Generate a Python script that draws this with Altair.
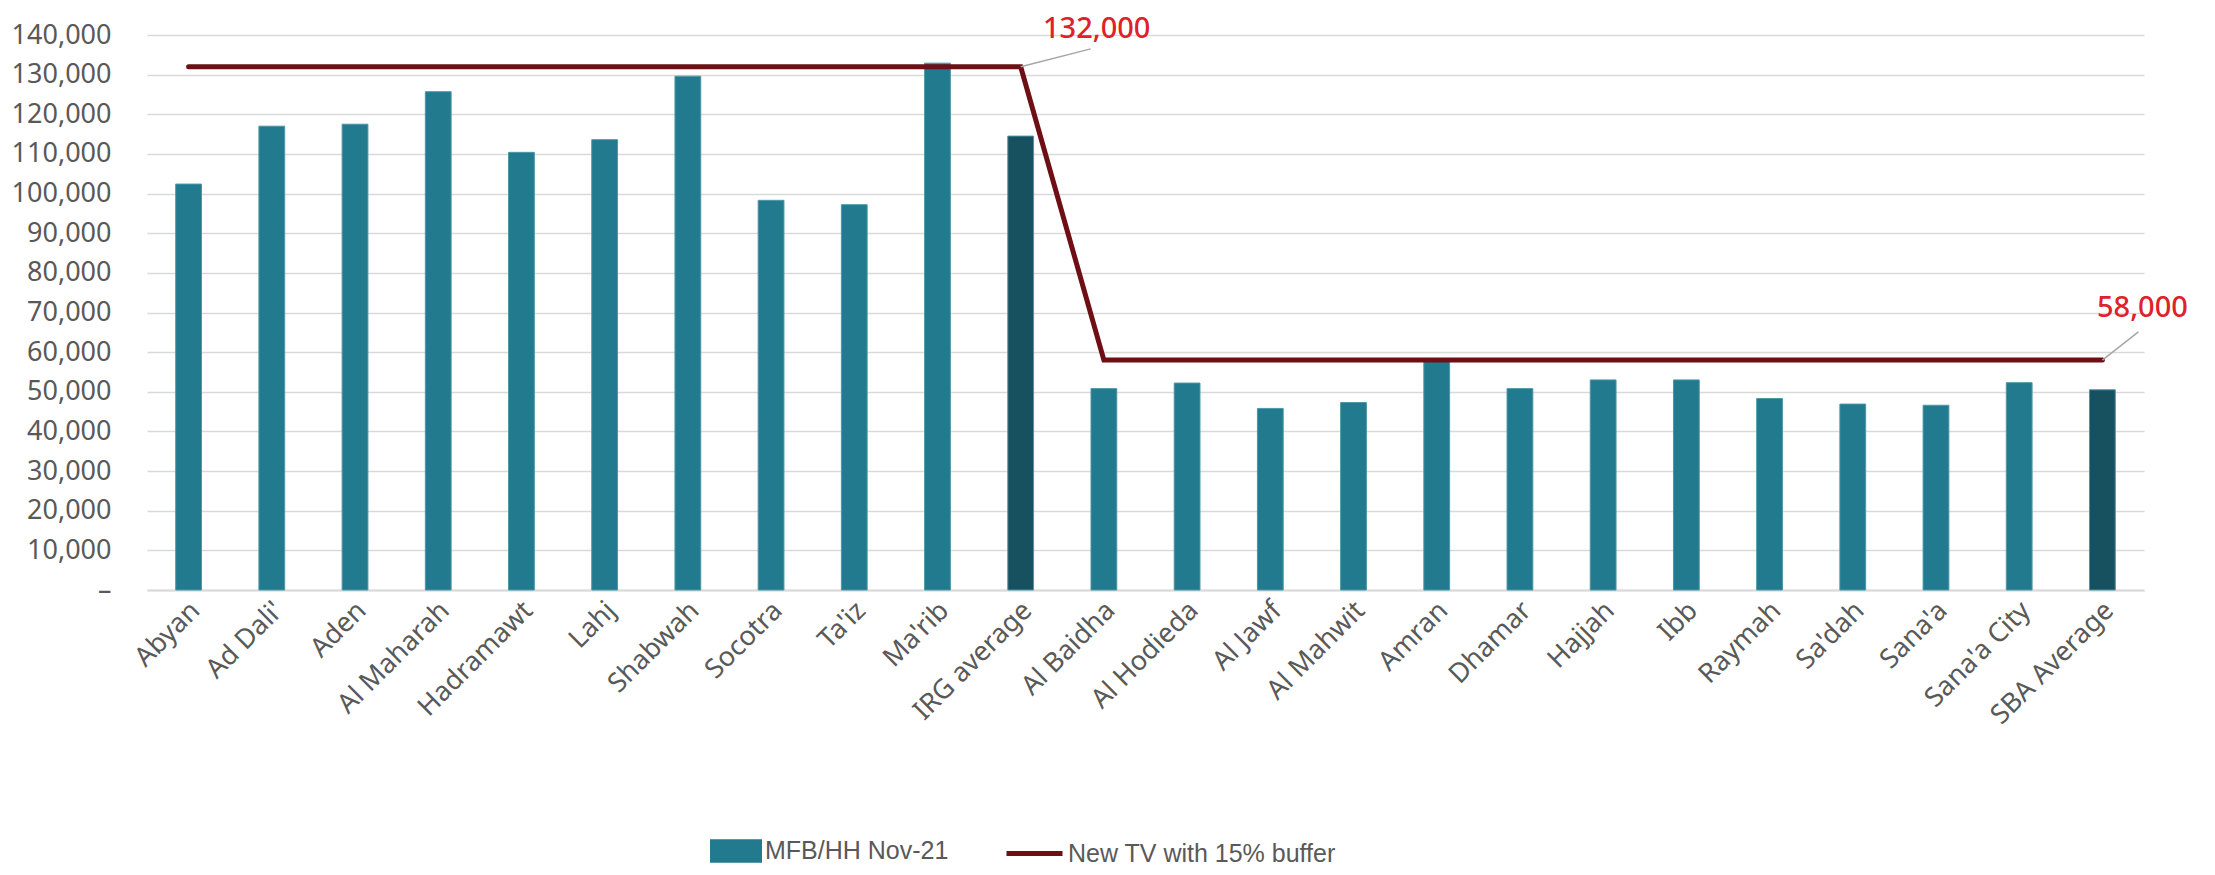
import altair as alt
import pandas as pd

categories = ["Abyan", "Ad Dali'", "Aden", "Al Maharah", "Hadramawt", "Lahj", "Shabwah",
              "Socotra", "Ta'iz", "Ma'rib", "IRG average", "Al Baidha", "Al Hodieda",
              "Al Jawf", "Al Mahwit", "Amran", "Dhamar", "Hajjah", "Ibb", "Raymah",
              "Sa'dah", "Sana'a", "Sana'a City", "SBA Average"]
mfb_values = [102400, 117000, 117500, 125700, 110400, 113600, 129600, 98300, 97200,
              132900, 114500, 50800, 52200, 45800, 47300, 58300, 50800, 53000, 53000,
              48300, 46900, 46600, 52300, 50500]
tv_values = [132000, 132000, 132000, 132000, 132000, 132000, 132000, 132000, 132000,
             132000, 132000, 58000, 58000, 58000, 58000, 58000, 58000, 58000, 58000,
             58000, 58000, 58000, 58000, 58000]
average_categories = ["IRG average", "SBA Average"]
bar_series = "MFB/HH Nov-21"
line_series = "New TV with 15% buffer"
y_ticks = [0, 10000, 20000, 30000, 40000, 50000, 60000, 70000, 80000, 90000,
           100000, 110000, 120000, 130000, 140000]

ann_categories = ["IRG average", "SBA Average"]
ann_values = [132000, 58000]
ann_leader_end = [136500, 65100]

df = pd.DataFrame({
    "cat": categories,
    "mfb": mfb_values,
    "tv": tv_values,
    "series": [bar_series] * len(categories),
    "tv_series": [line_series] * len(categories),
})
ann = pd.DataFrame({"cat": ann_categories, "val": ann_values, "end": ann_leader_end})

AX_FONT = "Noto Sans"
GRAY = "#595959"

x_axis = alt.Axis(labelAngle=-45, labelAlign="right", labelBaseline="middle",
                  labelFont=AX_FONT, labelFontSize=27, labelColor=GRAY,
                  labelPadding=16, labelOffset=7, ticks=False,
                  domainColor="#D9D9D9", domainWidth=2, grid=False,
                  labelLimit=400, labelOverlap=False)
x_scale = alt.Scale(paddingInner=0.69, paddingOuter=0.345)
y_axis = alt.Axis(values=y_ticks, labelFont=AX_FONT, labelFontSize=27,
                  labelColor=GRAY, labelPadding=36, ticks=False, domain=False,
                  gridColor="#D9D9D9", gridWidth=1.5, labelOverlap=False,
                  labelExpr="datum.value == 0 ? '–\u00a0\u00a0' : format(datum.value, ',')")
y_scale = alt.Scale(domain=[0, 140000], nice=False)


def xe():
    return alt.X("cat:N", sort=categories, title=None, scale=x_scale, axis=x_axis)


def ye(field):
    return alt.Y(field, scale=y_scale, title=None, axis=y_axis)


bars = alt.Chart(df).mark_bar(stroke="#4E97A8", strokeWidth=1).encode(
    x=xe(),
    y=ye("mfb:Q"),
    fill=alt.condition(
        alt.FieldOneOfPredicate(field="cat", oneOf=average_categories),
        alt.value("#17505E"),
        alt.Fill("series:N", title=None,
                 scale=alt.Scale(range=["#217A8E"]),
                 legend=alt.Legend(orient="none", legendX=563, legendY=790,
                                   symbolType="M-1,-0.45H1V0.45H-1Z", symbolSize=2700,
                                   symbolStrokeWidth=0, labelFont="Liberation Sans",
                                   labelFontSize=25, labelColor=GRAY, labelOffset=3,
                                   labelLimit=500, padding=0)),
    ),
)

line = alt.Chart(df).mark_line(strokeWidth=5, strokeCap="round").encode(
    x=xe(),
    y=ye("tv:Q"),
    stroke=alt.Stroke("tv_series:N", title=None,
                      scale=alt.Scale(range=["#6E0F15"]),
                      legend=alt.Legend(orient="none", legendX=857, legendY=788,
                                        symbolType="stroke", symbolSize=3136,
                                        symbolStrokeWidth=5, labelFont="Liberation Sans",
                                        labelFontSize=25, labelColor=GRAY, labelOffset=3,
                                        labelLimit=500, padding=0)),
)

layers = [bars, line]
offsets = {"IRG average": (70, 76, -38), "SBA Average": (36, 40, -52)}
for cat, (lead, dx, dy) in offsets.items():
    sub = alt.Chart(ann).transform_filter(alt.datum.cat == cat)
    layers.append(sub.mark_rule(color="#A6A6A6", strokeWidth=1.5, x2Offset=lead).encode(
        x=xe(), x2="cat:N",
        y=ye("val:Q"), y2="end:Q"))
    layers.append(sub.mark_text(font=AX_FONT, fontSize=29, fontWeight=500, color="#E0202A",
                                align="center", baseline="middle", dx=dx, dy=dy).encode(
        x=xe(),
        y=ye("val:Q"),
        text=alt.Text("val:Q", format=",")))

chart = alt.layer(*layers).resolve_scale(fill="independent", stroke="independent").properties(
    width=1997, height=555,
    padding={"left": 139, "top": 27, "right": 60, "bottom": 277},
    autosize=alt.AutoSizeParams(type="none"),
    background="white",
).configure_view(stroke=None)

chart.save("out.html", embed_options={"renderer": "svg", "actions": False})
